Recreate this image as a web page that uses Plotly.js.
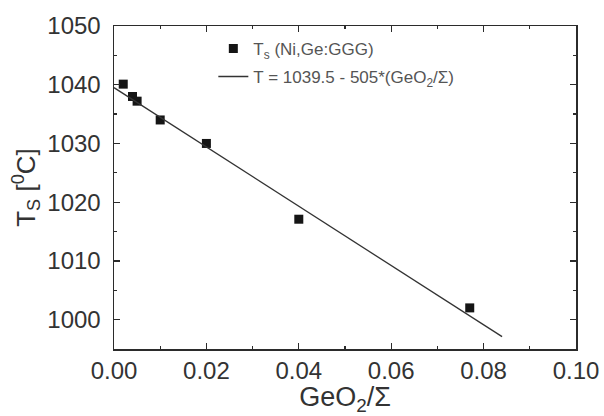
<!DOCTYPE html>
<html>
<head>
<meta charset="utf-8">
<script src="https://cdn.plot.ly/plotly-3.0.1.min.js"></script>
<style>html,body{margin:0;padding:0;background:#fff;}#chart{width:604px;height:416px;}</style>
</head>
<body>
<div id="chart"></div>
<script>
// Measured data: GeO2/Σ fraction vs. saturation temperature T_s
var geoFraction = [0.002, 0.004, 0.005, 0.010, 0.020, 0.040, 0.077];
var tempTs = [1040.1, 1038.0, 1037.2, 1034.0, 1030.0, 1017.1, 1002.0];
// Linear fit T = 1039.5 - 505*(GeO2/Σ), endpoints
var fitX = [0.0, 0.084];
var fitY = [1039.5, 997.1];
var xTicks = [0, 0.02, 0.04, 0.06, 0.08, 0.10];
var xTickText = ['0.00', '0.02', '0.04', '0.06', '0.08', '0.10'];
var yTicks = [1000, 1010, 1020, 1030, 1040, 1050];

var ink = '#2b2b2b';
var font = 'Liberation Sans, Arial, sans-serif';

var traces = [
  {
    x: geoFraction, y: tempTs, type: 'scatter', mode: 'markers',
    name: 'T<sub>s</sub> (Ni,Ge:GGG)', legendgroup: 'a',
    marker: {symbol: 'square', size: 9, color: '#151515'}
  },
  {
    x: fitX, y: fitY, type: 'scatter', mode: 'lines',
    name: 'T = 1039.5 - 505*(GeO<sub>2</sub>/Σ)', legendgroup: 'b',
    line: {color: '#333', width: 1.3}
  }
];

var axisCommon = {
  showline: true, linecolor: ink, linewidth: 1.5, mirror: 'ticks',
  ticks: 'inside', ticklen: 6, tickwidth: 1.2, tickcolor: ink,
  showgrid: false, zeroline: false,
  tickfont: {family: font, size: 24, color: '#333'}
};

var layout = {
  width: 604, height: 416,
  paper_bgcolor: '#fff', plot_bgcolor: '#fff',
  margin: {l: 114, r: 28, t: 26, b: 67},
  showlegend: true,
  legend: {
    x: 0.215, y: 0.985, xanchor: 'left', yanchor: 'top',
    bgcolor: 'rgba(0,0,0,0)', borderwidth: 0,
    font: {family: font, size: 17, color: '#555'},
    tracegroupgap: 3
  },
  xaxis: Object.assign({}, axisCommon, {
    range: [0, 0.1], tickvals: xTicks, ticktext: xTickText,
    minor: {ticks: 'inside', ticklen: 3, tickcolor: ink, dtick: 0.01, tick0: 0},
    title: {text: 'GeO<sub>2</sub>/Σ', font: {family: font, size: 27, color: '#333'}, standoff: 2}
  }),
  yaxis: Object.assign({}, axisCommon, {
    range: [995, 1050], tickvals: yTicks,
    minor: {ticks: 'inside', ticklen: 3, tickcolor: ink, dtick: 5, tick0: 1000},
    ticklabelstandoff: 7,
    title: {text: 'T<sub>S</sub> [<sup>0</sup>C]', font: {family: font, size: 26, color: '#333'}, standoff: 4}
  })
};

Plotly.newPlot('chart', traces, layout, {staticPlot: true, displayModeBar: false});
</script>
</body>
</html>
